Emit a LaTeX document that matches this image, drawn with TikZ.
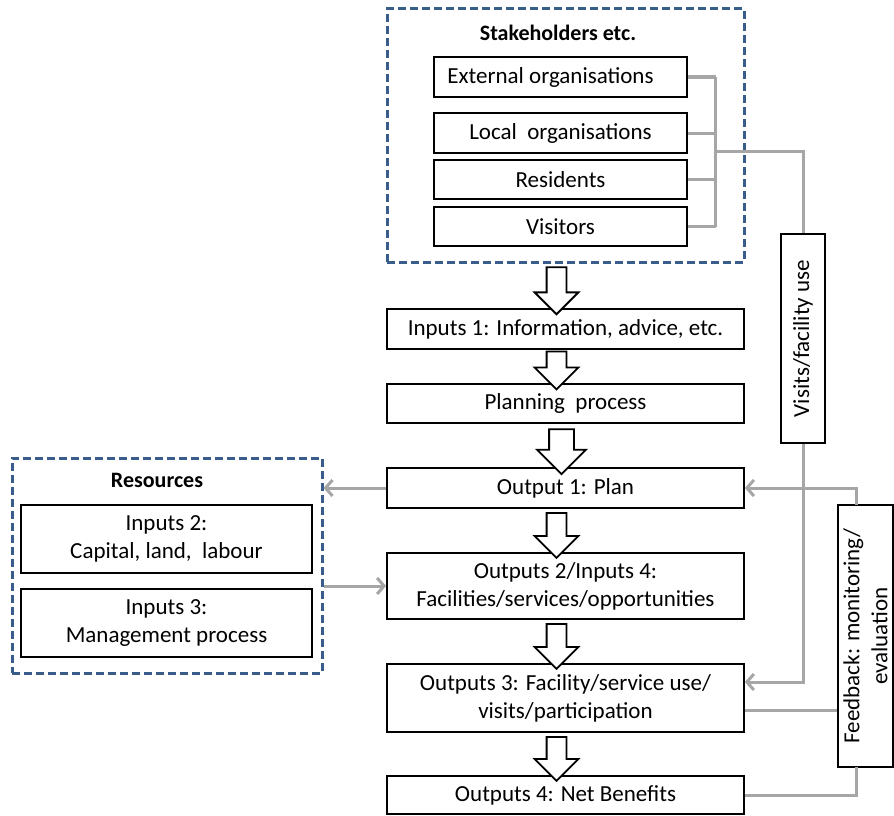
\documentclass[tikz,border=0pt]{standalone}
\usepackage{fontspec}
\setmainfont{Carlito}
\usetikzlibrary{arrows.meta,shapes.arrows,calc}
\definecolor{dashblue}{RGB}{56,93,138}
\definecolor{linegrey}{RGB}{166,166,166}
\tikzset{
  box/.style={draw, line width=1.8pt, fill=white, align=center, inner sep=2pt},
  group/.style={draw=dashblue, dash pattern=on 8pt off 4pt, line width=3pt},
  link/.style={draw=linegrey, line width=3pt},
  linkarrow/.style={link, -{Straight Barb[length=7pt,width=16pt,line width=3pt]}},
  flow/.style={draw, line width=1.8pt, fill=white, single arrow, shape border rotate=270,
    single arrow head extend=12pt, minimum width=42pt, inner sep=9pt},
}
\begin{document}
\begin{tikzpicture}[x=1pt, y=-1pt, every node/.style={font=\fontsize{23}{28}\selectfont}]
  \useasboundingbox (0,0) rectangle (894,816);
  % Stakeholders
  \node[group, minimum width=357pt, minimum height=253pt] (stake) at (565.5,135.5) {};
  \node[font=\fontsize{22}{28}\selectfont\bfseries] (staketitle) at (558,33) {Stakeholders etc.};
  \node[box, minimum width=253pt, minimum height=40pt] (ext) at (560.5,77) {External organisations\hspace{20pt}};
  \node[box, minimum width=253pt, minimum height=40pt] (loc) at (560.5,133) {Local\ \ organisations};
  \node[box, minimum width=253pt, minimum height=39pt] (resid) at (560.5,179.5) {Residents};
  \node[box, minimum width=253pt, minimum height=39pt] (vis) at (560.5,226.5) {Visitors};

  % Main column
  \node[box, minimum width=357pt, minimum height=40pt] (in1) at (565.5,329) {Inputs 1: Information, advice, etc.};
  \node[box, minimum width=357pt, minimum height=39pt] (plan) at (565.5,403.5) {Planning\ \ process};
  \node[box, minimum width=357pt, minimum height=40pt] (out1) at (565.5,488) {Output 1: Plan};
  \node[box, minimum width=357pt, minimum height=66pt] (out2) at (565.5,586) {Outputs 2/Inputs 4:\\Facilities/services/opportunities};
  \node[box, minimum width=357pt, minimum height=68pt] (out3) at (565.5,698) {Outputs 3: Facility/service use/\\visits/participation};
  \node[box, minimum width=357pt, minimum height=38pt] (out4) at (565.5,795) {Outputs 4: Net Benefits};

  % Resources
  \node[group, minimum width=310pt, minimum height=215pt] (resbox) at (167,565.5) {};
  \node[font=\fontsize{22}{28}\selectfont\bfseries] (restitle) at (157,480) {Resources};
  \node[box, minimum width=291pt, minimum height=68pt] (in2) at (166.5,539) {Inputs 2:\\Capital, land,\ \ labour};
  \node[box, minimum width=291pt, minimum height=68pt] (in3) at (166.5,623) {Inputs 3:\\Management process};

  % Side boxes
  \node[box, rotate=90, minimum width=209pt, minimum height=44pt] (visits) at (803,338.5) {Visits/facility use};
  \node[box, rotate=90, minimum width=262pt, minimum height=55pt, inner sep=0pt] (fb) at (865.5,636) {Feedback: monitoring/\\evaluation};

  % Block arrows
  \node[flow, minimum height=47pt] (a1) at ($(stake.south)!0.5!(in1.north)+(-9,0)$) {};
  \node[flow, minimum height=38pt] (a2) at ($(in1.south)!0.5!(plan.north)+(-9,-1)$) {};
  \node[flow, minimum height=45pt, minimum width=47pt, inner sep=11.5pt] (a3) at ($(plan.south)!0.5!(out1.north)+(-4,0)$) {};
  \node[flow, minimum height=45pt] (a4) at ($(out1.south)!0.5!(out2.north)+(-9,0)$) {};
  \node[flow, minimum height=45pt] (a5) at ($(out2.south)!0.5!(out3.north)+(-9,0)$) {};
  \node[flow, minimum height=44pt] (a6) at ($(out3.south)!0.5!(out4.north)+(-9,0)$) {};

  % Grey links
  \draw[link] (ext.east) -- ++(28,0) coordinate (btop);
  \draw[link] (loc.east) -- ++(28,0);
  \draw[link] (resid.east) -- ++(28,0);
  \draw[link] (vis.east) -- ++(28,0) coordinate (bbot);
  \draw[link] (btop) -- (bbot);
  \coordinate (join) at (715,151);
  \draw[link] (join) -| (visits.east);
  \draw[linkarrow] (visits.west) |- ([yshift=16pt]out3.east);

  \coordinate (fbtop) at (856,505);
  \coordinate (fbbot) at (856,767);
  \draw[linkarrow] (fbtop) |- (out1.east);
  \draw[link] ([yshift=-12pt]out3.east) -- ([yshift=-12pt]out3.east -| fb.north);
  \draw[link] (out4.east) -| (fbbot);

  \draw[linkarrow] (out1.west) -- (out1.west -| resbox.east);
  \draw[linkarrow] (resbox.east |- out2.west) -- (out2.west);
\end{tikzpicture}
\end{document}
